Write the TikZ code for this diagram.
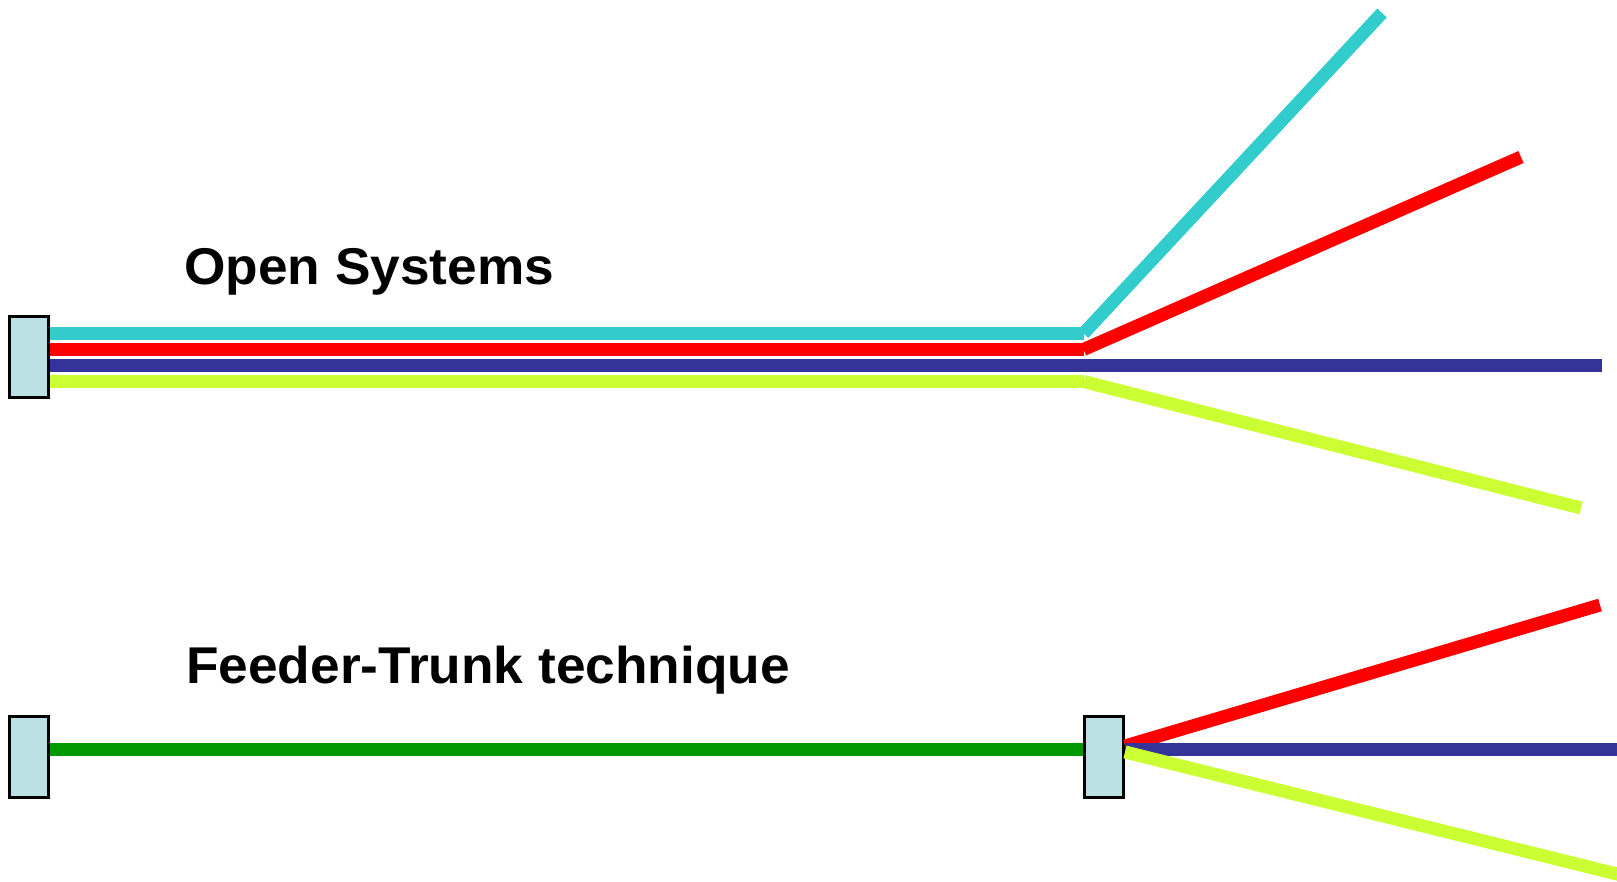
\documentclass[tikz,border=0pt]{standalone}
\usepackage{fontspec}
\setmainfont{Liberation Sans}
\newfontfamily\titlefont[FakeStretch=1.03]{Liberation Sans}
\definecolor{wcyan}{HTML}{33CCCC}
\definecolor{wred}{HTML}{FF0000}
\definecolor{wblue}{HTML}{333399}
\definecolor{wyellow}{HTML}{CCFF33}
\definecolor{wgreen}{HTML}{009900}
\definecolor{boxfill}{HTML}{BBE0E3}
\begin{document}
\begin{tikzpicture}[x=1pt,y=-1pt,
  wire/.style={line width=13pt},
  box/.style={draw=black, line width=3.4pt, fill=boxfill, minimum width=39pt, minimum height=81pt, inner sep=0pt},
  title/.style={font=\titlefont\bfseries\fontsize{51.7}{60}\selectfont, anchor=base west, inner sep=0pt}]
\useasboundingbox (0,0) rectangle (1617,881);
\clip (0,0) rectangle (1617,881);

% titles
\node[title] (t1) at (184,284) {Open Systems};
\node[title] (t2) at (186,683) {Feeder-Trunk technique};

% boxes
\node[box] (tb) at (29,357) {};
\node[box] (lb) at (29,757) {};
\node[box] (rb) at (1104,757) {};

% top coordinates
\coordinate (yc) at (0,333.5);
\coordinate (yr) at (0,349.5);
\coordinate (yb) at (0,365.5);
\coordinate (yy) at (0,381.5);
\coordinate (jc) at (1083.5,333.5);
\coordinate (jr) at (1083.5,349.5);
\coordinate (jy) at (1083.5,381.5);
\coordinate (ec) at (1382,13);
\coordinate (er) at (1521,157);
\coordinate (eb) at (1602,365.5);
\coordinate (ey) at (1581,508);

\draw[wire,wcyan] (tb.east |- yc) -- (jc);
\draw[wire,wcyan] (jc) -- (ec);
\draw[wire,wred] (tb.east |- yr) -- (jr);
\draw[wire,wred] (jr) -- (er);
\draw[wire,wblue] (tb.east |- yb) -- (eb);
\draw[wire,wyellow] (tb.east |- yy) -- (jy);
\draw[wire,wyellow] (jy) -- (ey);

% bottom
\coordinate (gy) at (0,749.5);
\coordinate (sr) at (1125,746);
\coordinate (sy) at (1125,752);
\coordinate (fr) at (1600,605);
\coordinate (fb) at (1640,749.5);
\coordinate (fy) at (1640,879.7);
\draw[wire,wgreen] (lb.east |- gy) -- (rb.west |- gy);
\draw[wire,wred] (sr) -- (fr);
\draw[wire,wblue] (rb.east |- gy) -- (fb);
\draw[wire,wyellow] (sy) -- (fy);
\end{tikzpicture}
\end{document}
